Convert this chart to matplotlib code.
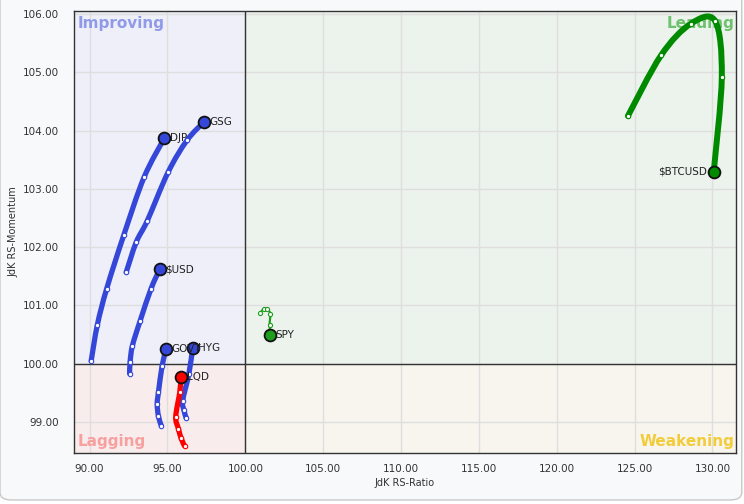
import matplotlib
matplotlib.use("Agg")
import matplotlib.pyplot as plt
from matplotlib.patches import FancyBboxPatch, Rectangle, PathPatch
from matplotlib.path import Path

# === DATOS ===
djp_x = [90.1, 90.5, 91.1, 92.2, 93.5, 94.8]
djp_y = [100.05, 100.67, 101.29, 102.21, 103.20, 103.87]

gsg_x = [92.35, 93.0, 93.7, 95.05, 96.25, 97.35]
gsg_y = [101.57, 102.09, 102.45, 103.29, 103.83, 104.15]

usd_x = [92.57, 92.6, 92.75, 93.25, 93.95, 94.5]
usd_y = [99.83, 100.03, 100.31, 100.74, 101.29, 101.62]

govt_x = [94.6, 94.42, 94.34, 94.42, 94.66, 94.91]
govt_y = [98.94, 99.10, 99.31, 99.51, 99.97, 100.25]

hyg_x = [96.2, 96.05, 95.98, 96.37, 96.62]
hyg_y = [99.07, 99.21, 99.37, 99.82, 100.27]

lqd_x = [96.1, 95.88, 95.7, 95.53, 95.79, 95.88]
lqd_y = [98.59, 98.72, 98.89, 99.09, 99.51, 99.78]

btc_x = [124.57, 126.7, 128.6, 130.17, 130.6, 130.08]
btc_y = [104.25, 105.29, 105.83, 105.88, 104.92, 103.29]

spy_x = [100.96, 101.17, 101.39, 101.6, 101.56, 101.6]
spy_y = [100.87, 100.94, 100.94, 100.86, 100.67, 100.5]

x_ticks = [90, 95, 100, 105, 110, 115, 120, 125, 130]
y_ticks = [99, 100, 101, 102, 103, 104, 105, 106]

BLUE = "#3547d9"
RED = "#ff0000"
GREEN = "#008a00"
SPY_GREEN = "#1f9e1f"

fig = plt.figure(figsize=(7.44, 5.04), dpi=100)
fig.patch.set_facecolor("white")
bg = FancyBboxPatch((0.0, 0.008), 0.997, 1.2, boxstyle="round,pad=0,rounding_size=0.015",
                    transform=fig.transFigure, facecolor="#f8f9fb",
                    edgecolor="#c8c8c8", linewidth=1.0, zorder=-10)
fig.patches.append(bg)

ax = fig.add_axes([0.0995, 0.1012, 0.8895, 0.877])
ax.set_zorder(1)
xmin, xmax = 89.0, 131.5
ymin, ymax = 98.47, 106.05
ax.set_xlim(xmin, xmax)
ax.set_ylim(ymin, ymax)

# === CUADRANTES ===
ax.add_patch(Rectangle((xmin, 100), 100 - xmin, ymax - 100, facecolor="#eeeff9", zorder=0))
ax.add_patch(Rectangle((100, 100), xmax - 100, ymax - 100, facecolor="#ecf3ec", zorder=0))
ax.add_patch(Rectangle((xmin, ymin), 100 - xmin, 100 - ymin, facecolor="#f9ecec", zorder=0))
ax.add_patch(Rectangle((100, ymin), xmax - 100, 100 - ymin, facecolor="#f7f5ee", zorder=0))

ax.set_xticks(x_ticks)
ax.set_yticks(y_ticks)
ax.set_xticklabels([f"{v:.2f}" for v in x_ticks])
ax.set_yticklabels([f"{v:.2f}" for v in y_ticks])
ax.grid(True, color="#dedede", linewidth=1.0, zorder=1)
ax.set_axisbelow(True)
ax.tick_params(length=0, labelsize=7.5, labelcolor="#333333")
ax.tick_params(axis="y", pad=11)
ax.tick_params(axis="x", pad=8)
for s in ax.spines.values():
    s.set_color("#333333")
    s.set_linewidth(1.0)

ax.axvline(100, color="#333333", linewidth=1.0, zorder=2)
ax.axhline(100, color="#333333", linewidth=1.0, zorder=2)

ax.set_xlabel("JdK RS-Ratio", fontsize=7, color="#333333", labelpad=3)
ax.set_ylabel("JdK RS-Momentum", fontsize=7, color="#333333", labelpad=3)

ax.text(89.2, 105.97, "Improving", color="#8f9ae8", fontsize=11, fontweight="bold", va="top", ha="left")
ax.text(131.4, 105.97, "Leading", color="#6fc06f", fontsize=11, fontweight="bold", va="top", ha="right")
ax.text(89.2, 98.53, "Lagging", color="#f7a0a0", fontsize=11, fontweight="bold", va="bottom", ha="left")
ax.text(131.4, 98.53, "Weakening", color="#f2cc3a", fontsize=11, fontweight="bold", va="bottom", ha="right")


def smooth_path(xs, ys):
    # curva suave (Catmull-Rom como Bezier cúbica) que pasa por los puntos
    pts = list(zip(xs, ys))
    n = len(pts)
    verts = [pts[0]]
    codes = [Path.MOVETO]
    for i in range(n - 1):
        p0 = pts[max(i - 1, 0)]
        p1 = pts[i]
        p2 = pts[i + 1]
        p3 = pts[min(i + 2, n - 1)]
        c1 = (p1[0] + (p2[0] - p0[0]) / 6, p1[1] + (p2[1] - p0[1]) / 6)
        c2 = (p2[0] - (p3[0] - p1[0]) / 6, p2[1] - (p3[1] - p1[1]) / 6)
        verts += [c1, c2, p2]
        codes += [Path.CURVE4] * 3
    return Path(verts, codes)


# === COLAS ===
def tail(xs, ys, color, name, lw=3.8, dx=0.35, ha="left", head_size=8.5, mk=3.2):
    ax.add_patch(PathPatch(smooth_path(xs, ys), facecolor="none", edgecolor=color, linewidth=lw,
                           capstyle="round", joinstyle="round", zorder=3))
    ax.plot(xs[:-1], ys[:-1], "o", markersize=mk, markerfacecolor="white",
            markeredgecolor=color, markeredgewidth=0.8, zorder=4)
    ax.plot(xs[-1], ys[-1], "o", markersize=head_size, markerfacecolor=color,
            markeredgecolor="#111111", markeredgewidth=1.3, zorder=5)
    ax.text(xs[-1] + dx, ys[-1], name, fontsize=7.5, color="#222222", va="center", ha=ha, zorder=6)

tail(djp_x, djp_y, BLUE, "DJP")
tail(gsg_x, gsg_y, BLUE, "GSG")
tail(usd_x, usd_y, BLUE, "$USD")
tail(govt_x, govt_y, BLUE, "GOVT")
tail(hyg_x, hyg_y, BLUE, "HYG")
tail(lqd_x, lqd_y, RED, "LQD")
tail(btc_x, btc_y, GREEN, "$BTCUSD", lw=4.3, dx=-0.4, ha="right")
tail(spy_x, spy_y, SPY_GREEN, "SPY", lw=1.6, mk=3.0)

fig.savefig("out.png", dpi=100, facecolor=fig.get_facecolor())
